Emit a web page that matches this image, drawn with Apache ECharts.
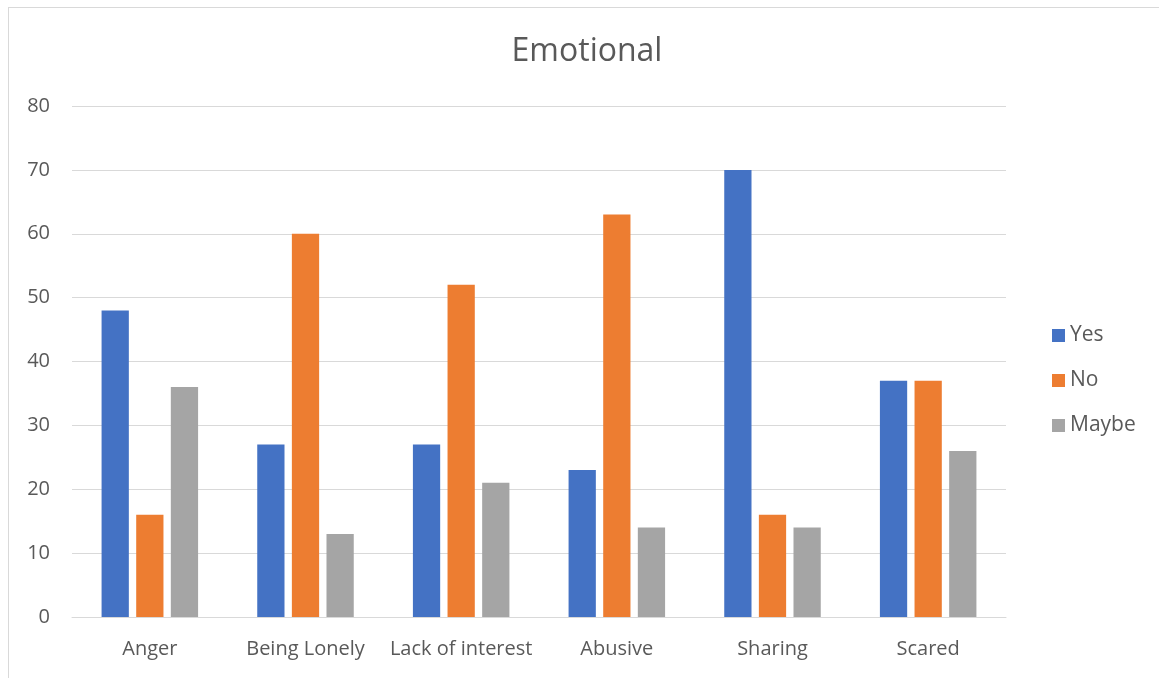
<!DOCTYPE html>
<html>
<head>
<meta charset="utf-8">
<script src="https://cdn.jsdelivr.net/npm/echarts@6/dist/echarts.min.js"></script>
<style>
  html, body { margin: 0; padding: 0; background: #fff; }
  #frame { position: absolute; left: 8px; top: 7px; width: 1200px; height: 700px; border: 1px solid #d9d9d9; box-sizing: border-box; }
  #chart { position: absolute; left: 0; top: 0; width: 1159px; height: 678px; }
</style>
</head>
<body>
<div id="frame"></div>
<div id="chart"></div>
<script>
// Survey answers per emotional indicator
const categories = ['Anger', 'Being Lonely', 'Lack of interest', 'Abusive', 'Sharing', 'Scared'];
const yesValues = [48, 27, 27, 23, 70, 37];
const noValues = [16, 60, 52, 63, 16, 37];
const maybeValues = [36, 13, 21, 14, 14, 26];
const yTicks = { min: 0, max: 80, interval: 10 };

const font = "'Open Sans', 'Noto Sans', sans-serif";
const textColor = '#595959';

const chart = echarts.init(document.getElementById('chart'), null, { renderer: 'canvas' });
chart.setOption({
  animation: false,
  title: {
    text: 'Emotional',
    left: 582, top: 31, textAlign: 'center',
    textStyle: { fontFamily: font, fontSize: 32, fontWeight: 'normal', color: textColor }
  },
  legend: {
    orient: 'vertical',
    left: 1047, top: 320,
    itemWidth: 13, itemHeight: 13, itemGap: 24,
    icon: 'rect',
    textStyle: { fontFamily: font, fontSize: 21, color: textColor },
    data: ['Yes', 'No', 'Maybe']
  },
  grid: { left: 72, right: 153, top: 106, bottom: 61, containLabel: false },
  xAxis: {
    type: 'category',
    data: categories,
    axisLine: { lineStyle: { color: '#d9d9d9', width: 1 } },
    axisTick: { show: false },
    axisLabel: { fontFamily: font, fontSize: 20, color: textColor, margin: 22, interval: 0 }
  },
  yAxis: {
    type: 'value',
    min: yTicks.min, max: yTicks.max, interval: yTicks.interval,
    axisLine: { show: false },
    axisTick: { show: false },
    splitLine: { lineStyle: { color: '#d9d9d9', width: 1 } },
    axisLabel: { fontFamily: font, fontSize: 20, color: textColor, margin: 22 }
  },
  series: [
    { name: 'Yes', type: 'bar', data: yesValues, itemStyle: { color: '#4472c4' }, barGap: '27%', barCategoryGap: '38%' },
    { name: 'No', type: 'bar', data: noValues, itemStyle: { color: '#ed7d31' } },
    { name: 'Maybe', type: 'bar', data: maybeValues, itemStyle: { color: '#a5a5a5' } }
  ]
});
</script>
</body>
</html>
